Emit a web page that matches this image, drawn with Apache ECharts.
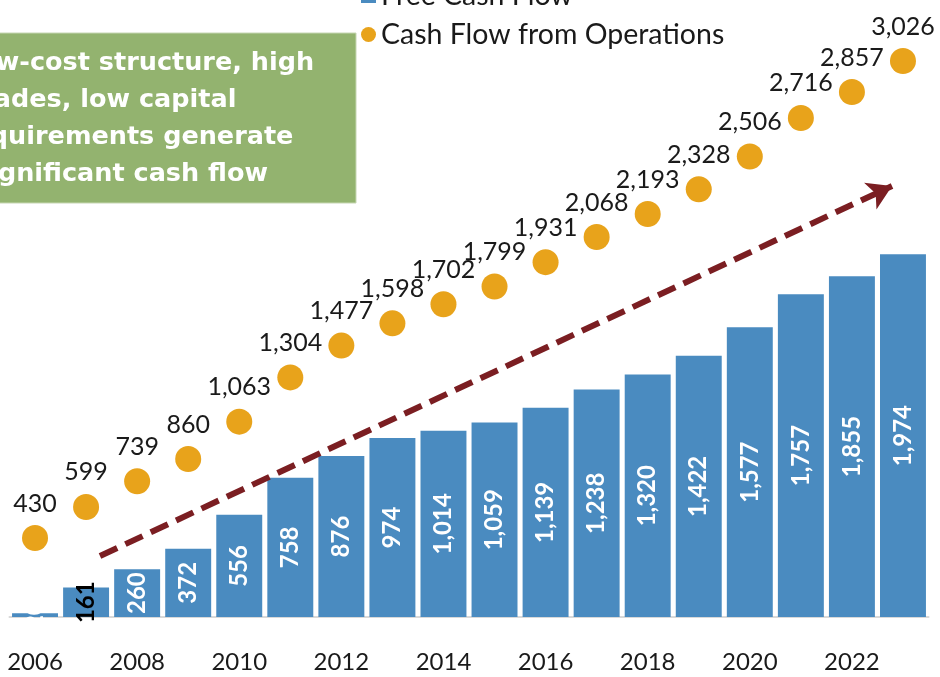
<!DOCTYPE html>
<html>
<head>
<meta charset="utf-8">
<script src="https://cdn.jsdelivr.net/npm/echarts@6/dist/echarts.min.js"></script>
<style>
html,body{margin:0;padding:0;background:#fff;}
#main{width:940px;height:677px;}
</style>
</head>
<body>
<div id="main"></div>
<script>
// 年份
var years = ['2006','2007','2008','2009','2010','2011','2012','2013','2014','2015','2016','2017','2018','2019','2020','2021','2022','2023'];
// Free Cash Flow（柱）
var freeCashFlow = [20,161,260,372,556,758,876,974,1014,1059,1139,1238,1320,1422,1577,1757,1855,1974];
// Cash Flow from Operations（点）
var cashFlowOps = [430,599,739,860,1063,1304,1477,1598,1702,1799,1931,2068,2193,2328,2506,2716,2857,3026];
// 文本框（左边被裁掉）
var noteLines = ['Low-cost structure, high','trades, low capital','requirements generate','significant cash flow'];

var FONT = 'Lato';
var BOX_FONT = 'bold 25.5px "DejaVu Sans"';

function fmt(v){
    return Number(v).toLocaleString('en-US');
}

//每行的起点（被画布左边裁掉一部分）
var noteX = [-38, -31, -40, -26];
var noteGraphic = [{
    type: 'rect',
    shape: {x: -2, y: 33, width: 358, height: 170},
    style: {fill: '#93b36f', stroke: '#c6d6b3', lineWidth: 1},
    z: 10
}];
for (var n = 0; n < noteLines.length; n++){
    noteGraphic.push({
        type: 'text',
        x: noteX[n],
        y: 63 + n * 37,
        style: {
            text: noteLines[n],
            fill: '#fff',
            font: BOX_FONT,
            verticalAlign: 'middle'
        },
        z: 11
    });
}

var barData = [];
for (var i = 0; i < freeCashFlow.length; i++){
    if (i == 1){
        barData.push({value: freeCashFlow[i], label: {color: '#000'}});
    } else {
        barData.push(freeCashFlow[i]);
    }
}

var chart = echarts.init(document.getElementById('main'));
chart.setOption({
    animation: false,
    backgroundColor: '#fff',
    grid: {left: 9.5, right: 11.5, top: 29, bottom: 60},
    legend: {
        orient: 'vertical',
        left: 361,
        top: -19,
        padding: 0,
        itemGap: 10,
        itemWidth: 15,
        itemHeight: 15,
        textStyle: {fontFamily: FONT, fontSize: 28.5, color: '#1a1a1a', lineHeight: 29},
        data: [
            {name: 'Free Cash Flow', icon: 'rect'},
            {name: 'Cash Flow from Operations', icon: 'circle'}
        ]
    },
    xAxis: {
        type: 'category',
        data: years,
        axisLine: {lineStyle: {color: '#d9d9d9', width: 2}},
        axisTick: {show: false},
        axisLabel: {interval: 1, margin: 33, fontFamily: FONT, fontSize: 24, color: '#1a1a1a'}
    },
    yAxis: {
        type: 'value',
        min: 0,
        max: 3200,
        show: false,
        splitLine: {show: false}
    },
    graphic: noteGraphic,
    series: [
        {
            name: 'Free Cash Flow',
            type: 'bar',
            data: barData,
            barCategoryGap: '10%',
            itemStyle: {color: '#4a8bc0'},
            label: {
                show: true,
                position: 'inside',
                rotate: 90,
                color: '#fff',
                fontFamily: FONT,
                fontWeight: 'bold',
                fontSize: 24,
                formatter: function(p){ return fmt(p.value); }
            },
            markLine: {
                silent: true,
                symbol: ['none', 'arrow'],
                symbolSize: [22, 24],
                label: {show: false},
                lineStyle: {color: '#7b1e22', width: 6, type: [19, 9]},
                data: [[{x: 100, y: 556}, {x: 892, y: 186}]]
            }
        },
        {
            name: 'Cash Flow from Operations',
            type: 'scatter',
            data: cashFlowOps,
            symbolSize: 26,
            itemStyle: {color: '#e8a31b', opacity: 1},
            label: {
                show: true,
                position: 'top',
                distance: 9,
                color: '#1a1a1a',
                fontFamily: FONT,
                fontSize: 25,
                formatter: function(p){ return fmt(p.value); }
            }
        }
    ]
});
</script>
</body>
</html>
